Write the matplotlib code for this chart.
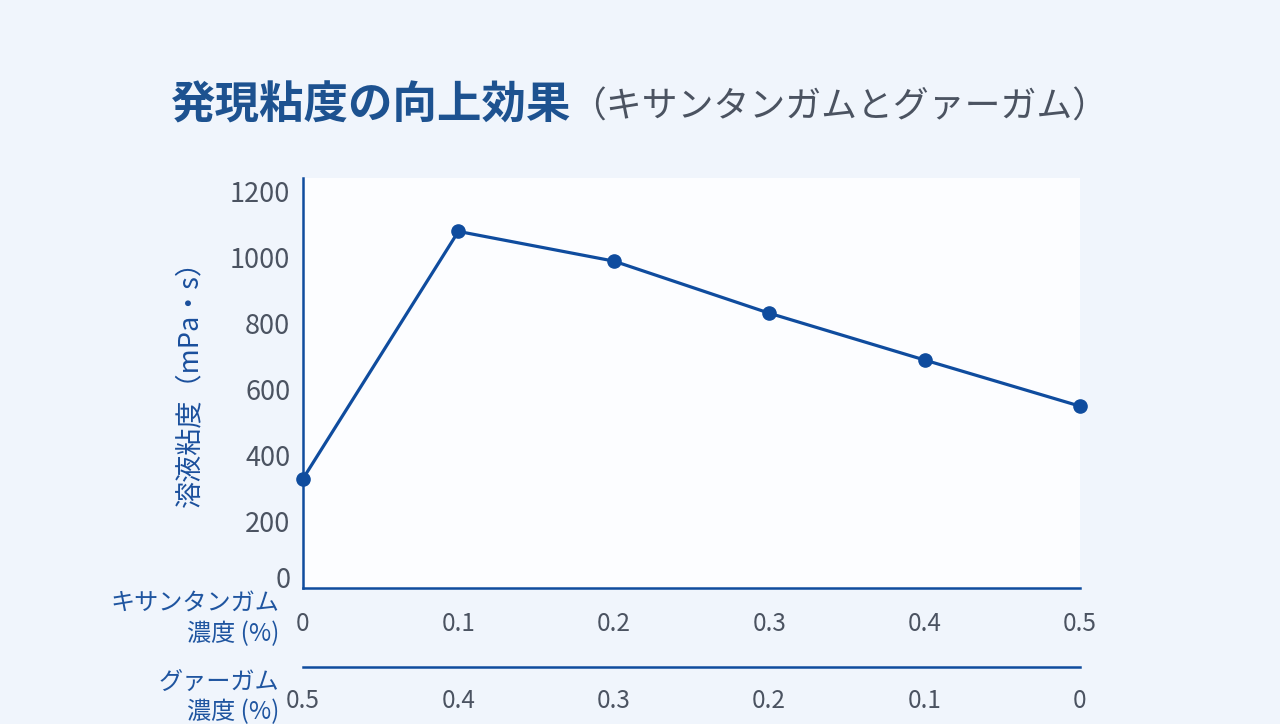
import matplotlib
matplotlib.use('Agg')
import matplotlib.pyplot as plt

plt.rcParams['font.family'] = ['Noto Sans CJK JP', 'DejaVu Sans']

# data
xanthan = [0, 0.1, 0.2, 0.3, 0.4, 0.5]
guar = [0.5, 0.4, 0.3, 0.2, 0.1, 0]
viscosity = [330, 1080, 990, 832, 690, 550]
y_ticks = [0, 200, 400, 600, 800, 1000, 1200]

BG = '#f0f5fc'
BLUE = '#0f4c9e'
GRAY = '#4b5361'

W, H = 1280, 724
fig = plt.figure(figsize=(W / 100, H / 100), dpi=100, facecolor=BG)

# main axes in pixel terms
x0, x1 = 303, 1080
y_top, y_bot = 178, 587.5
ax = fig.add_axes([x0 / W, 1 - y_bot / H, (x1 - x0) / W, (y_bot - y_top) / H])
ax.set_facecolor('#fcfdff')
ax.plot(xanthan, viscosity, color=BLUE, lw=2.3, marker='o', ms=9.5, clip_on=False, zorder=3)
ax.set_xlim(0, 0.5)
ax.set_ylim(0, 1242)
for s in ['top', 'right']:
    ax.spines[s].set_visible(False)
for s in ['left', 'bottom']:
    ax.spines[s].set_color(BLUE)
    ax.spines[s].set_linewidth(1.8)
ax.set_yticks(y_ticks)
ax.set_yticklabels([str(v) for v in y_ticks])
ax.tick_params(axis='y', length=0, pad=9, labelsize=19.5, labelcolor=GRAY)
ax.get_yticklabels()[0].set_verticalalignment('baseline')
ax.set_xticks(xanthan)
ax.set_xticklabels([f'{v:g}' for v in xanthan])
ax.tick_params(axis='x', length=0, pad=17, labelsize=17.5, labelcolor=GRAY)

# second axis for guar gum concentration
yb = 666.7
ax2 = fig.add_axes([x0 / W, 1 - yb / H, (x1 - x0) / W, 0.0001])
ax2.set_facecolor('none')
for s in ['top', 'right', 'left']:
    ax2.spines[s].set_visible(False)
ax2.spines['bottom'].set_color(BLUE)
ax2.spines['bottom'].set_linewidth(1.8)
ax2.set_xlim(0, 0.5)
ax2.set_yticks([])
ax2.set_xticks(xanthan)
ax2.set_xticklabels([f'{v:g}' for v in guar])
ax2.tick_params(axis='x', length=0, pad=15, labelsize=17.5, labelcolor=GRAY)

# row labels
fig.text(279 / W, 1 - 619 / H, 'キサンタンガム\n濃度 (%)', ha='right', va='center',
         fontsize=17.4, color='#1f55a0', linespacing=1.22)
fig.text(279 / W, 1 - 697 / H, 'グァーガム\n濃度 (%)', ha='right', va='center',
         fontsize=17.4, color='#1f55a0', linespacing=1.22)

# y label
fig.text(190 / W, 1 - 377 / H, '溶液粘度（mPa・s）', rotation=90, ha='center', va='center',
         fontsize=19.5, color='#1a4f9c')

# title
fig.text(171 / W, 1 - 106 / H, '発現粘度の向上効果', ha='left', va='center',
         fontsize=32, fontweight='bold', color='#1d5290')
fig.text(570 / W, 1 - 108 / H, '（キサンタンガムとグァーガム）', ha='left', va='center',
         fontsize=25.8, color=GRAY)

fig.savefig('out.png', dpi=100, facecolor=BG)
